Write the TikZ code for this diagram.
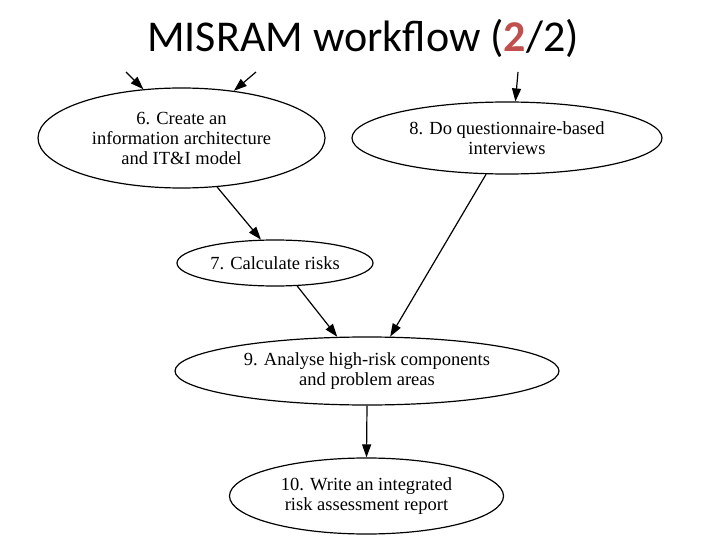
\documentclass[tikz,border=0pt]{standalone}
\usepackage{fontspec}
\newfontfamily\nodefont{Liberation Serif}
\newfontfamily\titlefont{Carlito}
\usetikzlibrary{shapes.geometric,arrows.meta}
\definecolor{titlered}{RGB}{192,80,77}
\begin{document}
\begin{tikzpicture}[x=1pt,y=-1pt,
  stepnode/.style={ellipse,draw,line width=1.2pt,inner sep=0pt,align=center,
    font=\nodefont\fontsize{18.5}{20}\selectfont},
  flow/.style={line width=1.2pt,-{Triangle[length=13pt,width=9pt]}}]
\useasboundingbox (0,0) rectangle (720,540);
\node[font=\titlefont\fontsize{44}{48}\selectfont] (title) at (363,38) {MISRAM workflow (\textcolor{titlered}{\textbf{2}}/2)};
\node[stepnode,minimum width=287pt,minimum height=100pt] (n6) at (181.5,138) {6. Create an\\information architecture\\and IT\&I model};
\node[stepnode,minimum width=310pt,minimum height=72pt] (n8) at (507,138) {8. Do questionnaire-based\\interviews};
\node[stepnode,minimum width=196pt,minimum height=46pt] (n7) at (275,263) {7. Calculate risks};
\node[stepnode,minimum width=384pt,minimum height=68pt] (n9) at (367,371) {9. Analyse high-risk components\\and problem areas};
\node[stepnode,minimum width=274pt,minimum height=76pt] (n10) at (366.5,496) {10. Write an integrated\\risk assessment report};
\coordinate (in6a) at (126,72);
\coordinate (in6b) at (256,72);
\coordinate (in8) at (518,72);
\draw[flow] (in6a) -- (n6.128);
\draw[flow] (in6b) -- (n6.42);
\draw[flow] (in8) -- (n8.77);
\draw[flow] (n6.-54) -- (n7.121);
\draw[flow] (n7.-46) -- (n9.131);
\draw[flow] (n8.240) -- (n9.56);
\draw[flow] (n9.south) -- (n10.north);
\end{tikzpicture}
\end{document}
